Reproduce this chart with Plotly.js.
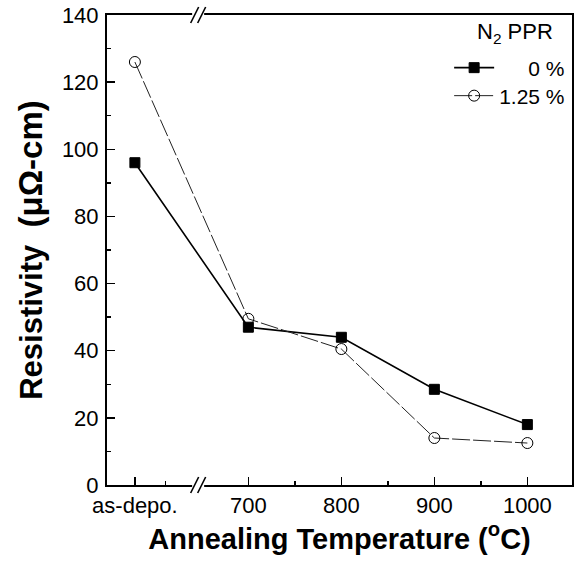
<!DOCTYPE html>
<html><head><meta charset="utf-8">
<script src="https://cdn.plot.ly/plotly-3.0.1.min.js"></script>
<style>html,body{margin:0;padding:0;background:#fff}#c{width:577px;height:565px}</style>
</head><body><div id="c"></div>
<script>
// category positions on the (broken) temperature axis; "as-depo." sits left of the break
const xPos = [578, 700, 800, 900, 1000];
const xLabels = ["as-depo.", "700", "800", "900", "1000"];
const res0 = [96, 47, 44, 28.5, 18];        // 0 % N2 PPR
const res125 = [126, 49.5, 40.5, 14, 12.5]; // 1.25 % N2 PPR
const seriesNames = ["\u00a0\u00a0\u00a0\u00a0\u00a00 %", "1.25 %"];
const legendTitle = "N<sub>2</sub> PPR";
const yTicks = [0, 20, 40, 60, 80, 100, 120, 140];

const F = '"Liberation Sans", Arial, Helvetica, sans-serif';
const traces = [
  {x: xPos, y: res0, name: seriesNames[0], mode: 'lines+markers', legend: 'legend',
   line: {color: '#000', width: 1.6},
   marker: {symbol: 'square', size: 10, color: '#000', line: {color: '#000', width: 1}}},
  {x: xPos, y: res125, name: seriesNames[1], mode: 'lines+markers', legend: 'legend2',
   line: {color: '#222', width: 1, dash: '18px,3px'},
   marker: {symbol: 'circle-open', size: 11, color: '#000', line: {color: '#000', width: 1}}}
];

// axis-break marks "//" (paper coordinates)
const W = 465, H = 470, bx = 0.196;
function brk(yp) {
  const out = [];
  out.push({type: 'rect', xref: 'paper', yref: 'paper', x0: bx - 6/W, x1: bx + 6/W,
            y0: yp - 3/H, y1: yp + 3/H, fillcolor: '#fff', line: {width: 0}, layer: 'above'});
  [-3.5, 3.5].forEach(d => out.push({type: 'line', xref: 'paper', yref: 'paper',
     x0: bx + (d - 4)/W, y0: yp - 8/H, x1: bx + (d + 4)/W, y1: yp + 8/H,
     line: {color: '#000', width: 1.6}, layer: 'above'}));
  return out;
}
const legBase = {xanchor: 'right', yanchor: 'middle', bgcolor: 'rgba(0,0,0,0)',
                 font: {size: 21}, itemwidth: 40, tracegroupgap: 0};

const layout = {
  width: 577, height: 565,
  margin: {l: 107, r: 5, t: 15, b: 80},
  paper_bgcolor: '#fff', plot_bgcolor: '#fff',
  font: {family: F, color: '#000', size: 22},
  showlegend: true,
  legend: Object.assign({}, legBase, {x: 0.996, y: 1 - 53/470}),
  legend2: Object.assign({}, legBase, {x: 0.996, y: 1 - 81/470}),
  annotations: [{text: legendTitle, xref: 'paper', yref: 'paper', x: (555-107)/465, y: 1 - 18/470,
                 xanchor: 'right', yanchor: 'middle', showarrow: false, font: {size: 22}}],
  xaxis: {range: [548, 1048], tickmode: 'array', tickvals: xPos, ticktext: xLabels,
          ticks: 'inside', ticklen: 8, tickwidth: 1.5, tickcolor: '#000',
          showline: true, linecolor: '#000', linewidth: 2, mirror: true,
          showgrid: false, zeroline: false, ticklabelstandoff: 0,
          tickfont: {size: 22},
          minor: {tickmode: 'array', tickvals: [611, 750, 850, 950], ticks: 'inside',
                  ticklen: 4, tickwidth: 1.5, tickcolor: '#000', showgrid: false},
          title: {text: '<b>Annealing Temperature (<sup>o</sup>C)</b>', font: {size: 29}, standoff: 6}},
  yaxis: {range: [0, 140], tickmode: 'array', tickvals: yTicks,
          ticks: 'inside', ticklen: 8, tickwidth: 1.5, tickcolor: '#000',
          showline: true, linecolor: '#000', linewidth: 2, mirror: true,
          showgrid: false, zeroline: false, ticklabelstandoff: 2,
          tickfont: {size: 22},
          minor: {dtick: 10, ticks: 'inside', ticklen: 4, tickwidth: 1.5, tickcolor: '#000', showgrid: false},
          title: {text: '<b>Resistivity\u00a0\u00a0<span style="font-size:33px">(μΩ-cm)</span></b>', font: {size: 31}, standoff: 10}},
  shapes: [].concat(brk(1), brk(0))
};
Plotly.newPlot('c', traces, layout, {displayModeBar: false, staticPlot: true});
</script></body></html>
